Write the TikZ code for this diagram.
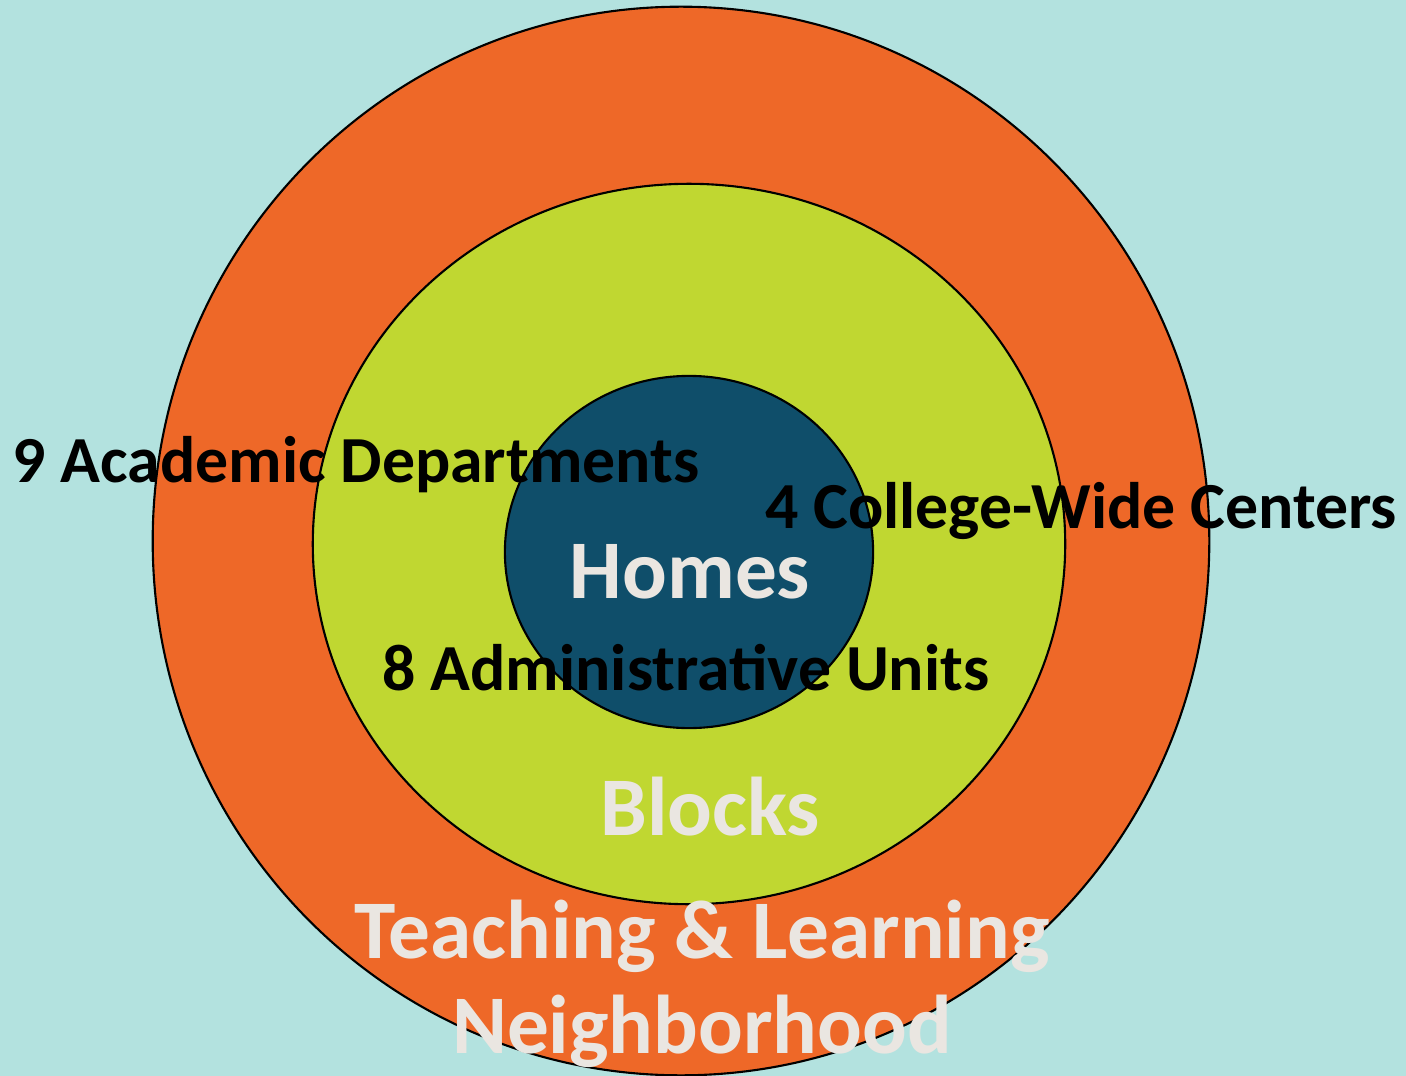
\documentclass[tikz,border=0pt]{standalone}
\usepackage{fontspec}
\setmainfont{Carlito}
\usepackage{tikz}
\usetikzlibrary{positioning,shapes.geometric}

\definecolor{bgteal}{HTML}{B3E2DF}
\definecolor{hoodorange}{HTML}{EE6828}
\definecolor{blockgreen}{HTML}{C0D731}
\definecolor{homeblue}{HTML}{0F4E6A}
\definecolor{paletext}{HTML}{EAE6E1}

\tikzset{
    ring/.style={draw=black, line width=0.6pt, ellipse, inner sep=0pt},
    darklabel/.style={anchor=base, text=black, font=\bfseries\fontsize{18.7}{20}\selectfont, inner sep=0pt},
    palelabel/.style={anchor=base, text=paletext, font=\bfseries\fontsize{23.7}{26}\selectfont, inner sep=0pt}
}

\begin{document}
\begin{tikzpicture}[x=0.01cm,y=-0.01cm]
    \fill[bgteal] (0,0) rectangle (1406,1076);
    \useasboundingbox (0,0) rectangle (1406,1076);

    \node[ring, fill=hoodorange, minimum width=10.56cm, minimum height=10.68cm](hood) at (681,541){};
    \node[ring, fill=blockgreen, minimum width=7.52cm, minimum height=7.20cm](blocks) at (689,544){};
    \node[ring, fill=homeblue, minimum width=3.68cm, minimum height=3.52cm](homes) at (689,552){};

    % ring titles
    \node[palelabel](homestxt) at (690,598){Homes};
    \node[palelabel](blockstxt) at (710,835){Blocks};
    \node[palelabel](hoodtxt) at (702,958){Teaching \& Learning};
    \node[palelabel, below=0.95cm of hoodtxt.base, anchor=base](hoodtxt2){Neighborhood};

    % counts
    \node[darklabel](acad) at (356,482){9 Academic Departments};
    \node[darklabel](cent) at (1081,528){4 College-Wide Centers};
    \node[darklabel](admin) at (686,690){8 Administrative Units};
\end{tikzpicture}
\end{document}
